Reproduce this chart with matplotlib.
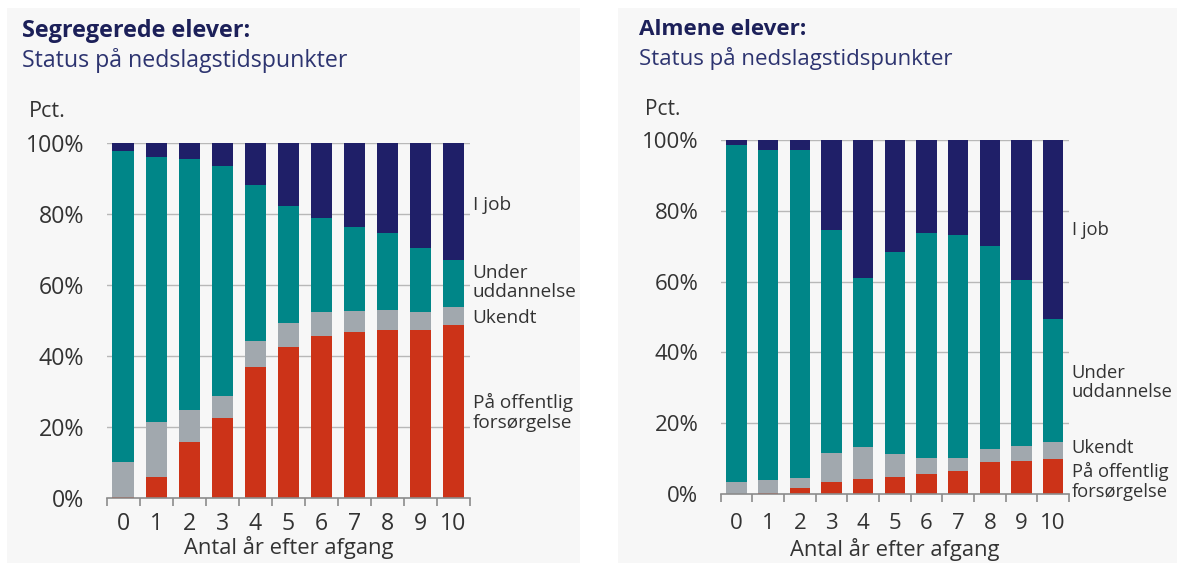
import matplotlib
matplotlib.use("Agg")
import matplotlib.pyplot as plt
from matplotlib.patches import Rectangle
import numpy as np

plt.rcParams['font.family'] = ['Open Sans', 'DejaVu Sans']

years = list(range(11))
xtick_labels = [str(y) for y in years]
ytick_vals = [0, 20, 40, 60, 80, 100]
ytick_labels = ['0%', '20%', '40%', '60%', '80%', '100%']
series_names = ['På offentlig\nforsørgelse', 'Ukendt', 'Under\nuddannelse', 'I job']

# Segregerede elever (percent)
seg_offentlig = [0.3, 5.7, 15.6, 22.4, 36.8, 42.6, 45.7, 46.7, 47.3, 47.3, 48.6]
seg_ukendt = [9.9, 15.7, 9.1, 6.4, 7.3, 6.7, 6.6, 6.0, 5.8, 5.0, 5.2]
seg_uddannelse = [87.6, 74.6, 71.0, 64.8, 44.0, 32.9, 26.7, 23.6, 21.5, 18.1, 13.2]
seg_job = [2.2, 4.0, 4.3, 6.4, 11.9, 17.8, 21.0, 23.7, 25.4, 29.6, 33.0]

# Almene elever (percent)
alm_offentlig = [0.0, 0.4, 1.6, 3.3, 4.1, 4.7, 5.6, 6.5, 9.0, 9.3, 9.8]
alm_ukendt = [3.4, 3.5, 3.0, 8.4, 9.3, 6.7, 4.7, 3.8, 3.7, 4.4, 4.8]
alm_uddannelse = [95.2, 93.4, 92.7, 62.9, 47.7, 56.9, 63.5, 62.8, 57.4, 46.8, 34.7]
alm_job = [1.4, 2.7, 2.7, 25.4, 38.9, 31.7, 26.2, 26.9, 29.9, 39.5, 50.7]

colors = ['#cc3318', '#a1a8ae', '#008688', '#1f1f68']

W, H = 1177, 563
fig = plt.figure(figsize=(W / 100, H / 100), dpi=100, facecolor='white')

# panel backgrounds
fig.patches.append(Rectangle((7 / W, 0), (580 - 7) / W, 1 - 8 / H,
                             transform=fig.transFigure, facecolor='#f7f7f7',
                             edgecolor='none', zorder=-10))
fig.patches.append(Rectangle((618 / W, 0), (W - 618) / W, 1 - 8 / H,
                             transform=fig.transFigure, facecolor='#f7f7f7',
                             edgecolor='none', zorder=-10))


def fx(px):
    return px / W


def fy(py):
    return 1 - py / H


panels = [
    dict(rect=[fx(106.7), fy(497.7), (470 - 106.7) / W, (497.7 - 143.3) / H],
         data=[seg_offentlig, seg_ukendt, seg_uddannelse, seg_job],
         title='Segregerede elever:', tx=22, label_y=[24.0, 50.7, 60.7, 82.6],
         label_x=10.58, pct=(29, 117), s=1.04, ty=(37, 67), lp=0.0,
         xpad=10.0, xl=15.8),
    dict(rect=[fx(720.7), fy(494), (1069 - 720.7) / W, (494 - 140) / H],
         data=[alm_offentlig, alm_ukendt, alm_uddannelse, alm_job],
         title='Almene elever:', tx=639, label_y=[3.5, 13.0, 31.5, 74.6],
         label_x=10.59, pct=(645, 115), s=1.0, ty=(35, 65), lp=3.0,
         xpad=13.5, xl=15.8),
]

for p in panels:
    s = p['s']
    ax = fig.add_axes(p['rect'])
    ax.set_facecolor('none')
    bottom = np.zeros(len(years))
    for vals, c in zip(p['data'], colors):
        ax.bar(years, vals, bottom=bottom, width=0.65, color=c, zorder=3,
               linewidth=0)
        bottom += np.array(vals)
    ax.set_xlim(-0.5, 10.5)
    ax.set_ylim(0, 100)
    for sp in ['top', 'right', 'left']:
        ax.spines[sp].set_visible(False)
    ax.spines['bottom'].set_color('#8c8c8c')
    ax.spines['bottom'].set_linewidth(1.2)
    ax.spines['bottom'].set_zorder(4)
    for yv in ytick_vals[1:]:
        ax.axhline(yv, color='#b8b8b8', linewidth=1.0, zorder=1)
    ax.set_yticks(ytick_vals)
    ax.set_yticklabels(ytick_labels)
    ax.tick_params(axis='y', length=0, pad=16, labelsize=16 * s,
                   labelcolor='#333333')
    ax.set_xticks(years)
    ax.set_xticklabels(xtick_labels)
    ax.set_xticks(np.arange(-0.5, 11, 1), minor=True)
    ax.tick_params(axis='x', which='major', length=0, pad=p['xpad'],
                   labelsize=16 * s, labelcolor='#333333')
    ax.tick_params(axis='x', which='minor', length=6, width=1.2,
                   color='#8c8c8c', direction='out')
    ax.set_xlabel('Antal år efter afgang', fontsize=p['xl'], color='#333333',
                  labelpad=p['lp'])
    for name, yv in zip(series_names, p['label_y']):
        ax.text(p['label_x'], yv, name, fontsize=13.2 * s, color='#333333',
                ha='left', va='center', clip_on=False, linespacing=1.1)
    # titles
    fig.text(fx(p['tx']), fy(p['ty'][0]), p['title'], fontsize=16.2 * s,
             fontweight='bold', color='#1c2059', ha='left', va='baseline')
    fig.text(fx(p['tx']), fy(p['ty'][1]), 'Status på nedslagstidspunkter',
             fontsize=16 * s, color='#2d3470', ha='left', va='baseline')
    fig.text(fx(p['pct'][0]), fy(p['pct'][1]), 'Pct.', fontsize=15 * s,
             color='#333333', ha='left', va='baseline')

fig.savefig('out.png', dpi=100, facecolor='white')
